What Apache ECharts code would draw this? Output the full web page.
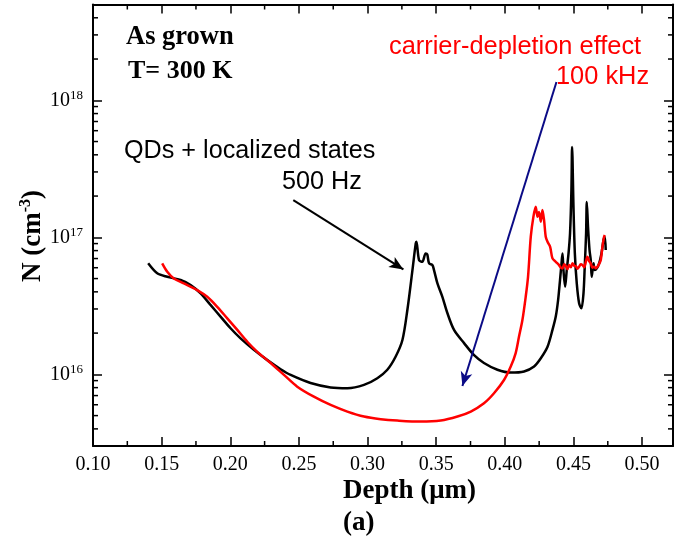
<!DOCTYPE html>
<html>
<head>
<meta charset="utf-8">
<script src="https://cdn.jsdelivr.net/npm/echarts@6/dist/echarts.min.js"></script>
<style>
  html, body { margin: 0; padding: 0; background: #fff; }
  #chart { width: 675px; height: 545px; }
</style>
</head>
<body>
<div id="chart"></div>
<script>
// C-V depth profile of carrier concentration (as grown sample, 300 K)
const X_MIN = 0.10, X_MAX = 0.5225;
const Y_MIN = 3e15, Y_MAX = 5e18;

// 500 Hz profile (QDs + localized states)
const depth500 = [0.1402, 0.1468, 0.1541, 0.1638, 0.1711, 0.1784, 0.1856, 0.1929, 0.2002, 0.2075,
  0.2172, 0.2270, 0.2367, 0.2440, 0.2585, 0.2731, 0.2853, 0.2974, 0.3071, 0.3144,
  0.3205, 0.3254, 0.3290, 0.3327, 0.3351, 0.3356, 0.3375, 0.3399, 0.3423, 0.3435,
  0.3448, 0.3472, 0.3484, 0.3509, 0.3545, 0.3582, 0.3630, 0.3703, 0.3776, 0.3848,
  0.3946, 0.4043, 0.4140, 0.4213, 0.4262, 0.4311, 0.4347, 0.4371, 0.4388, 0.4402,
  0.4413, 0.4420, 0.4427, 0.4439, 0.4451, 0.4464, 0.4475, 0.4485, 0.4490, 0.4500,
  0.4510, 0.4524, 0.4541, 0.4558, 0.4573, 0.4582, 0.4592, 0.4597, 0.4606, 0.4617,
  0.4626, 0.4633, 0.4646, 0.4655, 0.4670, 0.4687, 0.4704, 0.4719, 0.4728, 0.4735];
const n500 = [6.46e16, 5.46e16, 5.15e16, 4.88e16, 4.48e16, 3.90e16, 3.21e16, 2.64e16, 2.17e16, 1.83e16,
  1.51e16, 1.27e16, 1.09e16, 9.90e15, 8.65e15, 8.03e15, 7.92e15, 8.37e15, 9.37e15, 1.08e16,
  1.35e16, 1.78e16, 2.95e16, 5.77e16, 9.03e16, 9.27e16, 6.82e16, 6.63e16, 7.63e16, 7.50e16,
  6.46e16, 6.27e16, 5.77e16, 4.61e16, 3.68e16, 2.79e16, 2.11e16, 1.69e16, 1.38e16, 1.21e16,
  1.08e16, 1.03e16, 1.05e16, 1.14e16, 1.31e16, 1.59e16, 2.11e16, 2.64e16, 3.48e16, 4.88e16,
  6.46e16, 7.63e16, 5.77e16, 4.35e16, 5.77e16, 7.63e16, 1.07e17, 2.21e17, 4.57e17, 1.67e17,
  7.63e16, 4.61e16, 3.30e16, 3.03e16, 3.90e16, 6.10e16, 1.07e17, 1.81e17, 1.19e17, 8.07e16,
  6.82e16, 5.15e16, 6.46e16, 5.77e16, 5.93e16, 6.46e16, 7.63e16, 9.55e16, 1.01e17, 8.07e16];

// 100 kHz profile (carrier-depletion effect)
const depth100k = [0.1504, 0.1541, 0.1589, 0.1662, 0.1759, 0.1832, 0.1905, 0.1978, 0.2051, 0.2124,
  0.2197, 0.2281, 0.2391, 0.2488, 0.2609, 0.2731, 0.2853, 0.2974, 0.3096, 0.3217,
  0.3387, 0.3533, 0.3655, 0.3752, 0.3848, 0.3921, 0.3994, 0.4043, 0.4079, 0.4103,
  0.4128, 0.4152, 0.4169, 0.4189, 0.4208, 0.4225, 0.4238, 0.4249, 0.4262, 0.4274,
  0.4286, 0.4298, 0.4311, 0.4330, 0.4347, 0.4371, 0.4395, 0.4408, 0.4420, 0.4432,
  0.4444, 0.4456, 0.4468, 0.4481, 0.4493, 0.4505, 0.4517, 0.4529, 0.4541, 0.4553,
  0.4566, 0.4578, 0.4590, 0.4602, 0.4614, 0.4626, 0.4638, 0.4650, 0.4663, 0.4675,
  0.4687, 0.4699, 0.4711, 0.4723, 0.4728];
const n100k = [6.46e16, 5.61e16, 5.01e16, 4.61e16, 4.12e16, 3.68e16, 3.11e16, 2.56e16, 2.11e16, 1.73e16,
  1.46e16, 1.24e16, 9.91e15, 8.13e15, 6.87e15, 5.98e15, 5.35e15, 4.92e15, 4.71e15, 4.60e15,
  4.52e15, 4.60e15, 4.92e15, 5.35e15, 6.15e15, 7.28e15, 9.10e15, 1.14e16, 1.43e16, 1.88e16,
  2.49e16, 3.68e16, 5.15e16, 1.01e17, 1.41e17, 1.67e17, 1.41e17, 1.53e17, 1.30e17, 1.58e17,
  1.33e17, 1.01e17, 9.27e16, 8.53e16, 7.02e16, 6.63e16, 6.27e16, 6.00e16, 5.93e16, 6.35e16,
  6.17e16, 5.85e16, 6.27e16, 6.05e16, 6.46e16, 6.20e16, 6.17e16, 5.90e16, 6.10e16, 6.35e16,
  6.27e16, 6.05e16, 6.63e16, 7.21e16, 6.70e16, 6.46e16, 6.00e16, 6.10e16, 5.95e16, 6.10e16,
  6.40e16, 6.82e16, 8.53e16, 1.01e17, 1.04e17];

// Tick values
const xMinorTicks = [0.125, 0.175, 0.225, 0.275, 0.325, 0.375, 0.425, 0.475];
const yMinorTicks = [4e15, 5e15, 6e15, 7e15, 8e15, 9e15,
  2e16, 3e16, 4e16, 5e16, 6e16, 7e16, 8e16, 9e16,
  2e17, 3e17, 4e17, 5e17, 6e17, 7e17, 8e17, 9e17,
  2e18, 3e18, 4e18];

// Annotation arrows [start, end] in data coordinates
const arrowQD = [[0.2459, 1.87e17], [0.3261, 5.83e16]];
const arrowDepletion = [[0.4376, 1.36e18], [0.3691, 8.23e15]];

const SERIF = '"Liberation Serif", "Times New Roman", serif';
const SANS = '"Liberation Sans", Arial, sans-serif';

const chart = echarts.init(document.getElementById('chart'), null, { renderer: 'canvas' });

const tickLine = { color: '#000', width: 1.5 };

function minorTickY(params, api) {
  const cs = params.coordSys;
  const p = api.coord([api.value(0), api.value(1)]);
  return {
    type: 'group',
    children: [
      { type: 'line', shape: { x1: cs.x, y1: p[1], x2: cs.x + 5, y2: p[1] }, style: { stroke: '#000', lineWidth: 1.5 } },
      { type: 'line', shape: { x1: cs.x + cs.width, y1: p[1], x2: cs.x + cs.width - 5, y2: p[1] }, style: { stroke: '#000', lineWidth: 1.5 } }
    ]
  };
}

function minorTickX(params, api) {
  const cs = params.coordSys;
  const p = api.coord([api.value(0), api.value(1)]);
  return {
    type: 'group',
    children: [
      { type: 'line', shape: { x1: p[0], y1: cs.y + cs.height, x2: p[0], y2: cs.y + cs.height - 5 }, style: { stroke: '#000', lineWidth: 1.5 } },
      { type: 'line', shape: { x1: p[0], y1: cs.y, x2: p[0], y2: cs.y + 5 }, style: { stroke: '#000', lineWidth: 1.5 } }
    ]
  };
}

const supLabel = {
  formatter: function (v) {
    return '{b|10}{s|' + Math.round(Math.log10(v)) + '}';
  },
  rich: {
    b: { fontFamily: SERIF, fontSize: 20, color: '#000', lineHeight: 22, verticalAlign: 'middle' },
    s: { fontFamily: SERIF, fontSize: 13, color: '#000', lineHeight: 22, verticalAlign: 'top' }
  }
};

chart.setOption({
  animation: false,
  backgroundColor: '#fff',
  grid: { left: 93, right: 2, top: 4.5, bottom: 99, containLabel: false },
  xAxis: [
    {
      type: 'value', min: X_MIN, max: X_MAX, interval: 0.05, position: 'bottom',
      axisLine: { show: true, onZero: false, lineStyle: { color: '#000', width: 2 } },
      axisTick: { show: true, inside: true, length: 9, lineStyle: tickLine },
      axisLabel: {
        show: true, margin: 9, showMaxLabel: false,
        fontFamily: SERIF, fontSize: 20, color: '#000',
        formatter: v => v.toFixed(2)
      },
      splitLine: { show: false }
    },
    {
      type: 'value', min: X_MIN, max: X_MAX, interval: 0.05, position: 'top',
      axisLine: { show: true, onZero: false, lineStyle: { color: '#000', width: 2 } },
      axisTick: { show: true, inside: true, length: 9, lineStyle: tickLine },
      axisLabel: { show: false },
      splitLine: { show: false }
    }
  ],
  yAxis: [
    {
      type: 'log', logBase: 10, min: Y_MIN, max: Y_MAX, position: 'left',
      axisLine: { show: true, onZero: false, lineStyle: { color: '#000', width: 2 } },
      axisTick: { show: true, inside: true, length: 9, lineStyle: tickLine },
      axisLabel: Object.assign({ show: true, margin: 10, showMinLabel: false, showMaxLabel: false }, supLabel),
      splitLine: { show: false }
    },
    {
      type: 'log', logBase: 10, min: Y_MIN, max: Y_MAX, position: 'right',
      axisLine: { show: true, onZero: false, lineStyle: { color: '#000', width: 2 } },
      axisTick: { show: true, inside: true, length: 9, lineStyle: tickLine },
      axisLabel: { show: false },
      splitLine: { show: false }
    }
  ],
  series: [
    {
      name: '500 Hz', type: 'line', xAxisIndex: 0, yAxisIndex: 0,
      data: depth500.map((d, i) => [d, n500[i]]),
      showSymbol: false, smooth: 0.3,
      lineStyle: { color: '#000', width: 2.5 },
      z: 3,
      markLine: {
        silent: true, symbol: ['none', 'arrow'], symbolSize: [9, 14],
        label: { show: false },
        lineStyle: { color: '#000', width: 2, type: 'solid' },
        data: [[{ coord: arrowQD[0] }, { coord: arrowQD[1] }]]
      }
    },
    {
      name: '100 kHz', type: 'line', xAxisIndex: 0, yAxisIndex: 0,
      data: depth100k.map((d, i) => [d, n100k[i]]),
      showSymbol: false, smooth: 0.3,
      lineStyle: { color: '#ff0000', width: 2.5 },
      z: 4,
      markLine: {
        silent: true, symbol: ['none', 'arrow'], symbolSize: [9, 14],
        label: { show: false },
        lineStyle: { color: '#0b0b86', width: 2, type: 'solid' },
        itemStyle: { color: '#0b0b86' },
        data: [[{ coord: arrowDepletion[0] }, { coord: arrowDepletion[1] }]]
      }
    },
    {
      type: 'custom', xAxisIndex: 0, yAxisIndex: 0, silent: true,
      renderItem: minorTickY,
      data: yMinorTicks.map(v => [X_MIN, v]), z: 5
    },
    {
      type: 'custom', xAxisIndex: 0, yAxisIndex: 0, silent: true,
      renderItem: minorTickX,
      data: xMinorTicks.map(v => [v, Y_MIN]), z: 5
    }
  ],
  graphic: [
    { type: 'text', x: 126, y: 37, style: { text: 'As grown', font: 'bold 26.5px ' + SERIF, fill: '#000', align: 'left', verticalAlign: 'middle' } },
    { type: 'text', x: 128, y: 71, style: { text: 'T= 300 K', font: 'bold 26px ' + SERIF, fill: '#000', align: 'left', verticalAlign: 'middle' } },
    { type: 'text', x: 124, y: 151, style: { text: 'QDs + localized states', font: '25.2px ' + SANS, fill: '#000', align: 'left', verticalAlign: 'middle' } },
    { type: 'text', x: 282, y: 182, style: { text: '500 Hz', font: '25.2px ' + SANS, fill: '#000', align: 'left', verticalAlign: 'middle' } },
    { type: 'text', x: 389, y: 47, style: { text: 'carrier-depletion effect', font: '25.4px ' + SANS, fill: '#ff0000', align: 'left', verticalAlign: 'middle' } },
    { type: 'text', x: 556, y: 77, style: { text: '100 kHz', font: '25.4px ' + SANS, fill: '#ff0000', align: 'left', verticalAlign: 'middle' } },
    { type: 'text', x: 343, y: 491, style: { text: 'Depth (μm)', font: 'bold 27px ' + SERIF, fill: '#000', align: 'left', verticalAlign: 'middle' } },
    { type: 'text', x: 343, y: 523, style: { text: '(a)', font: 'bold 27px ' + SERIF, fill: '#000', align: 'left', verticalAlign: 'middle' } },
    {
      type: 'text', x: 33, y: 236, rotation: Math.PI / 2,
      style: {
        text: '{b|N (cm}{s|-3}{b|)}',
        align: 'center', verticalAlign: 'middle',
        rich: {
          b: { font: 'bold 27px ' + SERIF, fill: '#000', lineHeight: 30, verticalAlign: 'middle' },
          s: { font: 'bold 16px ' + SERIF, fill: '#000', lineHeight: 30, verticalAlign: 'top' }
        }
      }
    }
  ]
});
</script>
</body>
</html>
